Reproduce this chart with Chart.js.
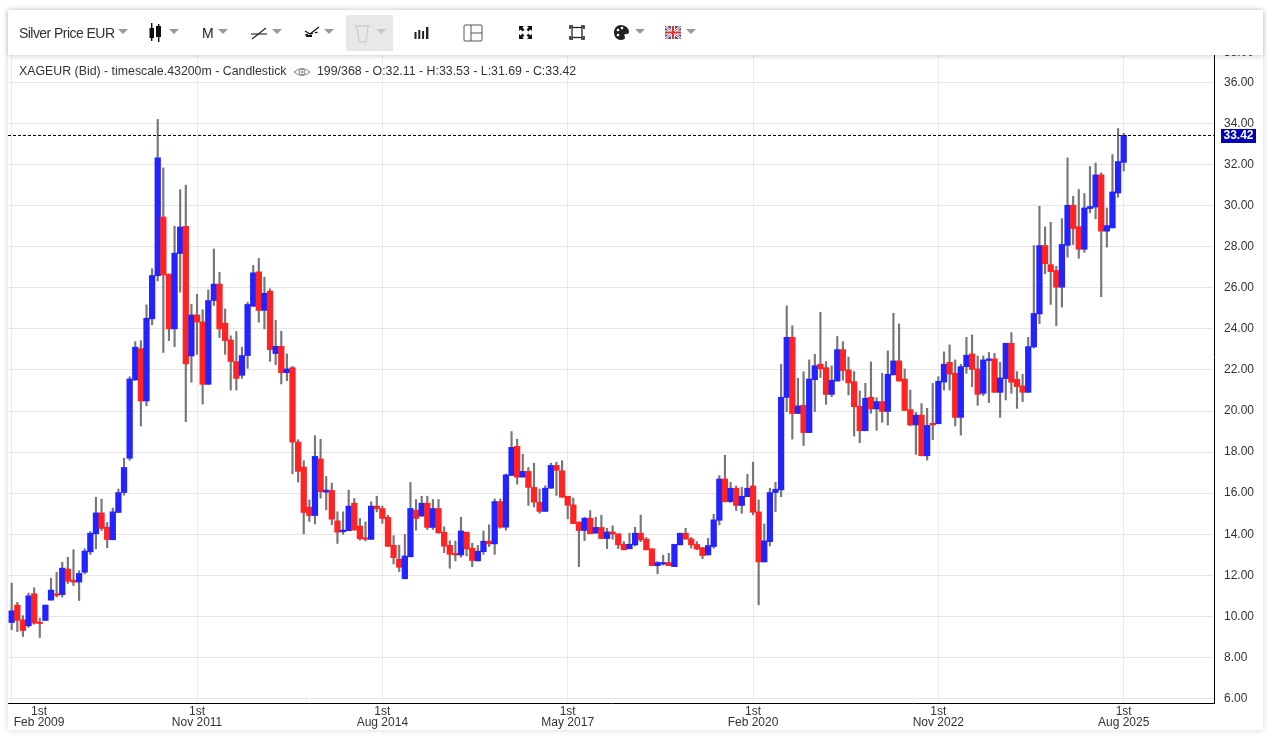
<!DOCTYPE html>
<html>
<head>
<meta charset="utf-8">
<title>Silver Price EUR</title>
<script src="https://cdn.jsdelivr.net/npm/chart.js@4/dist/chart.umd.min.js"></script>
<style>
  html, body { margin: 0; padding: 0; background: #fff; width: 1279px; height: 740px; overflow: hidden; }
  body { font-family: "Liberation Sans", Arial, sans-serif; color: #333; }
  #card { position: absolute; left: 8px; top: 10px; width: 1255px; height: 720px; background: #fff; box-shadow: 0 0 6px rgba(0,0,0,.16); }
  #myChart { position: absolute; left: 0; top: 0; }
  #toolbar { position: absolute; left: 8px; top: 10px; width: 1255px; height: 45px; background: #fff; box-shadow: 0 1px 5px rgba(0,0,0,.2); z-index: 2; }
  #toolbar > * { position: absolute; }
  .caret { width: 0; height: 0; top: 19px; border-left: 5px solid transparent; border-right: 5px solid transparent; border-top: 5px solid #999; }
  .name { left: 11px; top: 15px; font-size: 14px; letter-spacing: -.55px; color: #333; white-space: nowrap; }
  .disabled { left: 338px; top: 5px; width: 47px; height: 36px; background: #e8e8e8; }
  .head { position: absolute; top: 64px; font-size: 12.35px; color: #333; white-space: nowrap; z-index: 1; }
</style>
</head>
<body>
<div id="card"></div>
<canvas id="myChart" width="1279" height="740"></canvas>

<div class="head" style="left:19px">XAGEUR (Bid) - timescale.43200m - Candlestick</div>
<svg class="head" style="left:293px;top:66px" width="18" height="12" viewBox="0 0 18 12" fill="none" stroke="#666" stroke-width="0.8">
  <path d="M1 6 Q9 -1 17 6 Q9 13 1 6 Z"/><circle cx="9" cy="6" r="3"/><circle cx="9" cy="6" r="1"/>
</svg>
<div class="head" style="left:317px">199/368 - O:32.11 - H:33.53 - L:31.69 - C:33.42</div>

<div id="toolbar">
  <div class="name">Silver Price EUR</div>
  <div class="caret" style="left:110px"></div>

  <svg style="left:141px;top:13px" width="13" height="20" viewBox="0 0 13 20" fill="#111">
    <rect x="2" y="0" width="1.4" height="18"/><rect x="0.5" y="5" width="4.5" height="10"/>
    <rect x="9" y="1" width="1.4" height="18"/><rect x="7" y="3" width="5" height="11"/>
  </svg>
  <div class="caret" style="left:161px"></div>

  <div style="left:194px;top:15px;font-size:14px;color:#222">M</div>
  <div class="caret" style="left:210px"></div>

  <svg style="left:243px;top:15px" width="17" height="16" viewBox="0 0 17 16" stroke="#222" stroke-width="1.1" fill="none">
    <path d="M1 14 L15 3"/><path d="M0 9 H16"/>
  </svg>
  <div class="caret" style="left:264px"></div>

  <svg style="left:296px;top:14px" width="17" height="16" viewBox="0 0 17 16" stroke="#111" stroke-width="1.2" fill="none">
    <path d="M1 7 L6 10 L15 3"/><path d="M1 11 L15 8" stroke-dasharray="3 2"/><path d="M2 12 H8" stroke-width="2"/>
  </svg>
  <div class="caret" style="left:316px"></div>

  <div class="disabled"></div>
  <svg style="left:346px;top:14px" width="17" height="19" viewBox="0 0 17 19" stroke="#cfcfcf" stroke-width="1.4" fill="none">
    <path d="M1 2 H16"/><path d="M3 2 L5 18 H12 L14 2"/>
  </svg>
  <div class="caret" style="left:368px;border-top-color:#c8c8c8"></div>

  <svg style="left:406px;top:16px" width="16" height="14" viewBox="0 0 16 14" fill="#222">
    <rect x="0.5" y="6" width="2" height="7"/><rect x="4.3" y="4" width="2" height="9"/>
    <rect x="8.1" y="5" width="2" height="8"/><rect x="12" y="1" width="2.4" height="12"/>
  </svg>

  <svg style="left:455px;top:13px" width="20" height="20" viewBox="0 0 20 20" stroke="#555" stroke-width="1" fill="none">
    <rect x="1" y="2" width="18" height="16" rx="1"/><path d="M8 2 V18"/><path d="M8 10 H19"/>
  </svg>

  <svg style="left:510px;top:15px" width="15" height="15" viewBox="0 0 15 15" fill="#111">
    <path d="M1 1 H6 L4.4 2.6 L6.4 4.6 L4.6 6.4 L2.6 4.4 L1 6 Z"/>
    <path d="M14 1 V6 L12.4 4.4 L10.4 6.4 L8.6 4.6 L10.6 2.6 L9 1 Z"/>
    <path d="M1 14 V9 L2.6 10.6 L4.6 8.6 L6.4 10.4 L4.4 12.4 L6 14 Z"/>
    <path d="M14 14 H9 L10.6 12.4 L8.6 10.4 L10.4 8.6 L12.4 10.6 L14 9 Z"/>
  </svg>

  <svg style="left:561px;top:15px" width="16" height="15" viewBox="0 0 16 15" stroke="#222" stroke-width="1.3" fill="none">
    <rect x="3" y="2.5" width="10" height="10"/>
    <path d="M1 4 V1 H4 M12 1 H15 V4 M1 11 V14 H4 M12 14 H15 V11" stroke-width="1.6"/>
  </svg>

  <svg style="left:605px;top:14px" width="17" height="17" viewBox="0 0 17 17">
    <path d="M8 1 C12 1 16 4 16 8 C16 10 14 10 12.5 10 C11 10 11 12 12 13 C12.5 15 10 16 8 16 C4 16 1 13 1 8.5 C1 4 4 1 8 1 Z" fill="#222"/>
    <circle cx="5" cy="6" r="1.3" fill="#fff"/><circle cx="9" cy="4" r="1.3" fill="#fff"/><circle cx="5" cy="11" r="1.3" fill="#fff"/>
  </svg>
  <div class="caret" style="left:627px"></div>

  <svg style="left:657px;top:16px" width="16" height="13" viewBox="0 0 16 13">
    <rect width="16" height="13" fill="#3a4a8c"/>
    <path d="M0 0 L16 13 M16 0 L0 13" stroke="#fff" stroke-width="2.6"/>
    <path d="M0 0 L16 13 M16 0 L0 13" stroke="#d33" stroke-width="1"/>
    <path d="M8 0 V13 M0 6.5 H16" stroke="#fff" stroke-width="4"/>
    <path d="M8 0 V13 M0 6.5 H16" stroke="#d33" stroke-width="2.2"/>
  </svg>
  <div class="caret" style="left:678px"></div>
</div>

<script>
const opens = [
  9.70,10.55,9.83,9.54,11.10,9.72,9.80,10.79,11.10,11.06,
  12.30,11.76,11.67,12.15,13.14,14.02,15.04,14.34,13.73,15.06,
  16.03,17.70,21.51,23.04,20.49,24.49,26.59,29.45,26.67,24.00,
  27.67,29.00,22.68,24.68,24.34,21.30,25.38,26.18,24.28,23.46,
  22.41,21.74,22.70,25.10,26.78,24.90,25.84,22.80,23.15,21.87,
  22.11,18.49,17.27,15.32,14.91,17.67,16.05,16.13,14.65,14.12,
  14.17,15.51,14.40,13.83,13.75,15.37,15.25,14.82,13.46,12.79,
  11.83,12.90,15.17,14.88,15.51,14.33,15.25,14.10,13.46,13.07,
  12.99,14.10,13.32,12.70,13.15,13.66,13.53,15.59,14.34,16.86,
  18.28,16.78,17.06,16.28,15.56,15.11,16.24,17.35,17.09,15.85,
  15.43,14.59,14.18,14.78,14.05,14.33,13.79,14.11,14.02,13.51,
  13.29,13.48,14.05,13.76,13.29,12.47,12.54,12.62,12.42,13.48,
  14.05,13.77,13.50,13.35,12.99,13.40,14.68,16.69,15.59,16.24,
  15.40,15.83,16.35,15.09,12.65,13.64,16.03,16.16,20.66,23.59,
  19.88,20.28,18.95,21.53,22.28,22.11,20.81,21.46,22.99,22.00,
  21.43,20.23,19.04,20.67,20.10,20.46,19.98,21.76,22.44,21.56,
  20.07,19.32,19.80,17.82,19.40,19.38,21.41,22.37,21.84,19.69,
  22.16,22.78,22.05,20.86,22.46,22.54,20.91,21.58,23.30,21.54,
  21.22,20.91,23.12,24.73,28.06,27.13,26.84,26.03,28.07,30.02,
  28.98,27.88,29.86,29.93,31.50,28.76,28.92,30.62,32.11
]
const highs = [
  11.62,10.68,10.03,11.13,11.39,9.91,10.55,11.86,12.15,12.64,
  12.88,13.24,12.22,13.29,14.13,15.80,15.71,14.57,15.27,16.20,
  17.70,21.67,23.38,23.43,25.17,26.93,34.20,31.84,26.67,29.00,
  30.78,31.00,25.19,25.69,24.93,25.90,27.89,26.76,24.97,23.66,
  23.87,23.11,25.30,27.09,27.43,26.52,25.95,24.42,23.89,22.78,
  22.18,18.60,17.58,15.67,18.80,18.63,16.81,16.49,15.09,15.09,
  16.15,15.74,14.77,14.60,15.58,15.85,15.37,14.93,13.93,13.47,
  13.99,16.52,15.69,15.85,15.85,15.69,15.69,14.36,13.68,13.67,
  14.83,14.10,13.56,13.45,14.16,14.46,15.72,15.72,16.93,19.00,
  18.63,17.90,17.25,17.46,16.20,16.36,17.46,17.51,17.58,15.85,
  15.76,14.60,14.83,15.15,14.83,14.93,14.29,14.41,14.02,13.64,
  14.05,14.34,14.93,13.84,13.29,12.67,12.98,13.07,13.51,14.05,
  14.29,13.85,13.64,13.35,13.80,14.97,16.86,17.85,16.53,16.35,
  16.29,16.92,17.51,15.67,14.50,16.24,16.53,22.28,25.12,24.15,
  21.60,21.91,22.49,22.76,24.81,22.41,22.20,23.63,23.38,22.63,
  21.92,20.98,21.35,22.39,20.65,21.84,22.93,24.76,24.24,22.05,
  21.02,19.93,20.36,20.13,21.35,21.67,22.88,23.22,22.49,22.28,
  23.59,23.71,22.68,22.68,22.85,22.81,22.37,23.30,23.82,21.92,
  21.79,23.59,28.06,29.97,28.97,29.19,27.05,29.37,32.33,30.46,
  30.79,30.59,31.91,32.08,31.60,29.89,32.49,33.76,33.53
]
const lows = [
  9.34,9.26,9.02,9.46,9.62,8.97,9.80,10.79,10.94,10.94,
  11.60,11.50,10.77,12.07,13.01,13.29,14.18,13.34,13.73,15.06,
  15.90,17.60,21.50,19.27,20.26,24.20,26.34,22.85,23.43,23.14,
  25.79,19.48,21.40,22.76,20.34,21.30,25.14,23.58,22.76,21.02,
  21.02,21.59,22.08,25.10,24.33,24.00,22.42,22.26,21.32,21.48,
  16.94,16.54,14.02,14.62,14.50,15.76,15.19,14.46,13.55,14.00,
  14.17,14.20,13.71,13.67,13.75,15.09,14.53,13.41,12.55,12.18,
  11.83,12.90,14.20,14.88,14.23,14.23,14.04,13.10,12.34,12.70,
  12.88,12.94,12.42,12.70,13.02,13.40,13.02,14.29,14.20,16.86,
  16.44,16.78,15.40,15.33,15.02,15.11,16.24,15.89,15.80,14.75,
  14.52,12.42,13.69,14.02,14.05,13.79,13.30,13.76,13.30,13.24,
  13.29,13.43,13.64,13.24,12.47,12.07,12.50,12.47,12.42,13.48,
  13.76,13.32,13.24,12.81,12.99,13.32,14.45,15.56,15.54,15.15,
  15.02,15.83,14.94,10.56,12.65,13.43,15.10,15.83,19.97,18.63,
  19.88,18.32,18.95,19.97,21.63,20.33,20.70,21.46,21.50,20.78,
  18.78,18.46,19.04,19.89,19.06,19.45,19.32,21.76,21.46,20.03,
  19.28,17.89,17.82,17.61,18.60,19.38,21.02,21.02,19.27,18.83,
  21.84,21.19,20.28,20.75,20.41,20.91,19.69,20.54,20.86,20.13,
  20.46,20.91,23.07,24.26,26.68,25.19,24.16,25.06,27.49,28.11,
  27.44,27.73,29.65,29.36,25.57,27.98,28.92,30.41,31.69
]
const closes = [
  10.27,9.80,9.31,11.00,9.67,9.65,10.55,11.28,11.02,12.35,
  11.71,11.67,12.09,13.18,14.05,15.04,14.28,13.74,15.09,16.03,
  17.25,21.56,23.11,20.49,24.52,26.60,32.33,26.63,24.00,27.69,
  28.96,22.29,24.68,24.33,21.30,25.38,26.18,24.00,23.43,22.41,
  21.59,22.70,25.19,26.73,24.90,25.74,22.99,23.15,21.87,22.05,
  18.49,17.06,15.06,14.91,17.79,16.07,16.15,14.73,14.10,14.20,
  15.37,14.20,13.78,13.75,15.37,15.24,14.77,13.41,12.86,12.39,
  12.94,15.25,14.77,15.51,14.33,15.25,14.07,13.42,13.02,12.99,
  14.16,13.28,12.72,13.17,13.66,13.53,15.59,14.34,16.89,18.23,
  16.78,17.06,16.28,15.56,15.11,16.24,17.35,17.11,15.80,15.41,
  14.52,14.18,14.78,14.02,14.33,13.79,14.11,14.00,13.48,13.24,
  13.51,14.05,13.72,13.24,12.47,12.62,12.62,12.47,13.51,14.05,
  13.76,13.48,13.28,12.96,13.45,14.70,16.69,15.59,16.24,15.40,
  15.85,16.24,15.07,12.65,13.68,16.03,16.19,20.67,23.59,19.88,
  20.25,18.95,21.56,22.21,22.05,20.81,21.50,22.99,21.97,21.37,
  20.21,19.04,20.62,20.10,20.46,19.98,21.79,22.44,21.46,20.03,
  19.32,19.80,17.82,19.30,19.32,21.45,22.28,21.80,19.69,22.16,
  22.72,22.03,20.81,22.49,22.54,20.91,21.61,23.30,21.40,21.19,
  20.91,23.14,24.75,28.06,27.18,26.79,26.03,28.11,30.02,28.89,
  27.88,29.89,29.96,31.50,28.76,29.03,30.67,32.15,33.42
]
const lastPrice = 33.42

// x is the candle number, one per month from Feb 2009
// second tick only holds the first label, the site pushes it in from the edge
const xTicks = [0, 4.86, 33, 66, 99, 132, 165, 198]
const xTickLabels = ["", ["1st","Feb 2009"], ["1st","Nov 2011"], ["1st","Aug 2014"], ["1st","May 2017"], ["1st","Feb 2020"], ["1st","Nov 2022"], ["1st","Aug 2025"]]

// top label sits half hidden under the toolbar
const yTicks = [6,8,10,12,14,16,18,20,22,24,26,28,30,32,34,36,37.46]
const yTickLabels = ["6.00","8.00","10.00","12.00","14.00","16.00","18.00","20.00","22.00","24.00","26.00","28.00","30.00","32.00","34.00","36.00","38.00"]

const blue = "#2323ff"
const red = "#ff2323"
const xMin = -0.66
const xMax = 214.08

const wicks = highs.map((h, i) => ({x: i, y: [lows[i], h]}))
const bodies = opens.map((o, i) => ({x: i, y: [o, closes[i]]}))
const bodyColors = opens.map((o, i) => closes[i] >= o ? blue : red)

const priceTag = {
  id: "priceTag",
  afterDraw(chart) {
    const c = chart.ctx
    const y = chart.scales.y.getPixelForValue(lastPrice)
    c.save()
    c.fillStyle = "#0000b4"
    c.fillRect(1221, y - 6.5, 35, 14)
    c.fillStyle = "#fff"
    c.font = "bold 12px 'Liberation Sans'"
    c.textAlign = "center"
    c.textBaseline = "middle"
    c.fillText(lastPrice.toFixed(2), 1238.5, y + 0.5)
    c.restore()
  }
}

new Chart("myChart", {
  type: "bar",
  plugins: [priceTag],
  data: {
    datasets: [
      {data: bodies, backgroundColor: bodyColors, barThickness: 5.6, grouped: false, order: 1},
      {data: wicks, backgroundColor: "#777", barThickness: 1.5, grouped: false, order: 2},
      {
        type: "line",
        data: [{x: xMin, y: lastPrice}, {x: xMax, y: lastPrice}],
        borderColor: "#000",
        borderWidth: 1,
        borderDash: [3, 2],
        pointRadius: 0,
        order: 0
      }
    ]
  },
  options: {
    responsive: false,
    animation: false,
    layout: {padding: {left: 8, top: 11, right: 16, bottom: 0}},
    plugins: {legend: {display: false}, tooltip: {enabled: false}},
    scales: {
      x: {
        type: "linear",
        offset: false,
        min: xMin,
        max: xMax,
        afterBuildTicks(axis) { axis.ticks = xTicks.map(v => ({value: v})) },
        afterFit(axis) {
          axis.height = 37
          axis.paddingLeft = 0
          axis.paddingRight = 0
        },
        border: {color: "#000", width: 1},
        grid: {
          offset: false,
          drawTicks: false,
          color: ctx => ctx.index == 1 ? "transparent" : "#ececec"
        },
        ticks: {
          autoSkip: false,
          maxRotation: 0,
          padding: 3,
          color: "#333",
          font: {family: "Liberation Sans", size: 12, lineHeight: 0.95},
          callback: (v, i) => xTickLabels[i]
        }
      },
      y: {
        position: "right",
        min: 5.78,
        max: 39.482,
        afterBuildTicks(axis) { axis.ticks = yTicks.map(v => ({value: v})) },
        afterFit(axis) {
          axis.width = 49
          axis.paddingTop = 0
          axis.paddingBottom = 0
        },
        border: {color: "#000", width: 1},
        grid: {drawTicks: false, color: "#e6e6e6"},
        ticks: {
          autoSkip: false,
          padding: 10,
          color: "#333",
          font: {family: "Liberation Sans", size: 12},
          callback: (v, i) => yTickLabels[i]
        }
      }
    }
  }
})
</script>
</body>
</html>
